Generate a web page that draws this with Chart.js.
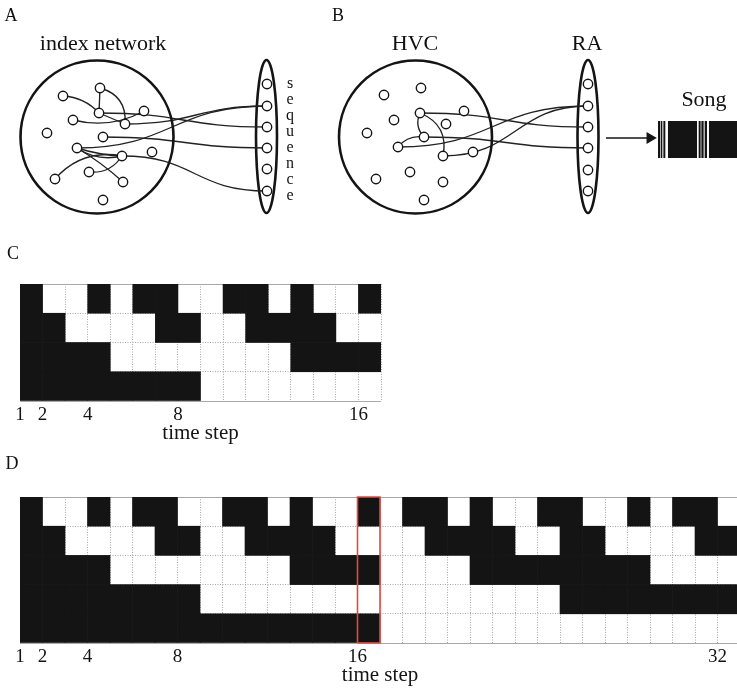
<!DOCTYPE html>
<html>
<head>
<meta charset="utf-8">
<script src="https://cdn.jsdelivr.net/npm/chart.js@4"></script>
<style>
  html, body { margin: 0; padding: 0; background: #fff; overflow: hidden; width: 737px; height: 688px; }
  canvas { position: absolute; }
  .lbl { position: absolute; font-family: 'Liberation Serif', serif; color: #111; transform: translate(-50%, -50%); white-space: nowrap; line-height: 1; }
  .seq { position: absolute; font-family: 'Liberation Serif', serif; color: #111; font-size: 16px; line-height: 16px; text-align: center; width: 14px; }
</style>
</head>
<body>

<canvas id="net" width="737" height="250" style="left:0px;top:0px"></canvas>
<canvas id="song" width="82" height="37" style="left:658px;top:121px"></canvas>
<canvas id="gridC" width="400" height="185" style="left:0px;top:270px"></canvas>
<canvas id="gridD" width="760" height="210" style="left:0px;top:480px"></canvas>

<div class="lbl" style="left:11px;top:15px;font-size:18px">A</div>
<div class="lbl" style="left:103px;top:43px;font-size:22px">index network</div>
<div class="seq" style="left:283px;top:75px">s<br>e<br>q<br>u<br>e<br>n<br>c<br>e</div>
<div class="lbl" style="left:338px;top:15px;font-size:18px">B</div>
<div class="lbl" style="left:415px;top:43px;font-size:22px">HVC</div>
<div class="lbl" style="left:587px;top:43px;font-size:22px">RA</div>
<div class="lbl" style="left:704px;top:99px;font-size:22px">Song</div>
<div class="lbl" style="left:13px;top:253px;font-size:18px">C</div>
<div class="lbl" style="left:12px;top:463px;font-size:18px">D</div>

<script>
const ink = "#141414";
const serif = "'Liberation Serif', serif";

// ======================================================
// PANEL A / B : network sketches (units = pixels of the figure)
// ======================================================
const bigCircles = [[97, 137], [415.5, 137]];
const ovals = [[266.5, 136.5, 10.5, 76.5], [588, 136.5, 10.5, 76.5]];

const indexNodes = [[100, 88], [63, 96], [99, 113], [144, 111], [73, 120], [125, 124], [47, 133], [103, 137],
                    [77, 148], [152, 152], [122, 156], [89, 172], [55, 179], [123, 182], [103, 200]];
const seqX = 267;
const seqY = [84, 106, 127, 148, 169, 191];

const hvcNodes = [[421, 88], [384, 95], [464, 111], [420, 113], [394, 120], [446, 124], [367, 133], [424, 137],
                  [398, 147], [473, 152], [443, 156], [410, 172], [376, 179], [443, 182], [424, 200]];
const raX = 588;
const raY = [84, 106, 127, 148, 170, 191];

// [from, to, bend]  ("s" = sigmoid link into the output column)
const indexEdges = [
    ["n0", "n2", 0], ["n0", "n5", 18], ["n1", "n2", 8], ["n2", "n5", 0], ["n4", "n3", -14],
    ["n2", "c2", "s"], ["n5", "c1", "s"], ["n7", "c3", "s"], ["n8", "c1", "s"], ["n10", "c5", "s"],
    ["n8", "n10", -3], ["n8", "n10", -10], ["n8", "n13", 3], ["n11", "n10", -11], ["n12", "n10", 20]
];
const hvcEdges = [
    ["n3", "c2", "s"], ["n3", "n7", -8], ["n3", "n10", 20], ["n8", "n7", 8],
    ["n7", "c3", "s"], ["n8", "c1", "s"], ["n10", "c1", "s"]
];

const arrowPts = [[606, 138], [650, 138]];

// ======================================================
// SONG (black segments along the strip)
// ======================================================
const songOn = [[0.3, 1.7], [3, 4], [5.7, 7], [10.3, 38.7], [41, 42.3], [43.7, 45.3], [47, 48.7], [51.3, 82]];

// ======================================================
// PANEL C / D : binary codes (1 = black cell), top row first
// ======================================================
const stepsC = 16;
const codeC = [
    [1,0,0,1,0,1,1,0,0,1,1,0,1,0,0,1],
    [1,1,0,0,0,0,1,1,0,0,1,1,1,1,0,0],
    [1,1,1,1,0,0,0,0,0,0,0,0,1,1,1,1],
    [1,1,1,1,1,1,1,1,0,0,0,0,0,0,0,0]
];
const labelsC = [1, 2, 4, 8, 16];

const stepsD = 32;
const codeD = [
    [1,0,0,1,0,1,1,0,0,1,1,0,1,0,0,1, 0,1,1,0,1,0,0,1,1,0,0,1,0,1,1,0],
    [1,1,0,0,0,0,1,1,0,0,1,1,1,1,0,0, 0,0,1,1,1,1,0,0,1,1,0,0,0,0,1,1],
    [1,1,1,1,0,0,0,0,0,0,0,0,1,1,1,1, 0,0,0,0,1,1,1,1,1,1,1,1,0,0,0,0],
    [1,1,1,1,1,1,1,1,0,0,0,0,0,0,0,0, 0,0,0,0,0,0,0,0,1,1,1,1,1,1,1,1],
    [1,1,1,1,1,1,1,1,1,1,1,1,1,1,1,1, 0,0,0,0,0,0,0,0,0,0,0,0,0,0,0,0]
];
const labelsD = [1, 2, 4, 8, 16, 32];
const highlightStep = 16;

Chart.defaults.font.family = serif;
Chart.defaults.color = ink;

// ------------------------------------------------------
// network chart
// ------------------------------------------------------
const panels = [
    { nodes: indexNodes, colX: seqX, colY: seqY, edges: indexEdges },
    { nodes: hvcNodes, colX: raX, colY: raY, edges: hvcEdges }
];

function pick(pn, key) {
    const i = +key.slice(1);
    return key[0] === "n" ? pn.nodes[i] : [pn.colX, pn.colY[i]];
}

const diagramPlugin = {
    id: "diagram",
    beforeDatasetsDraw(chart) {
        const { ctx, scales: { x, y } } = chart;
        const px = p => [x.getPixelForValue(p[0]), y.getPixelForValue(p[1])];
        ctx.save();

        ctx.lineWidth = 2.6;
        ctx.strokeStyle = ink;
        ovals.forEach(o => {
            const [cx, cy] = px(o);
            const rx = Math.abs(x.getPixelForValue(o[0] + o[2]) - cx);
            const ry = Math.abs(y.getPixelForValue(o[1] + o[3]) - cy);
            ctx.beginPath();
            ctx.ellipse(cx, cy, rx, ry, 0, 0, Math.PI * 2);
            ctx.stroke();
        });

        ctx.lineWidth = 1.35;
        ctx.strokeStyle = "#222";
        panels.forEach(pn => pn.edges.forEach(([a, b, bend]) => {
            const p0 = px(pick(pn, a)), p3 = px(pick(pn, b));
            ctx.beginPath();
            ctx.moveTo(p0[0], p0[1]);
            if (bend === "s") {
                const k = (p3[0] - p0[0]) * 0.5;
                ctx.bezierCurveTo(p0[0] + k, p0[1], p3[0] - k, p3[1], p3[0], p3[1]);
            } else {
                const dx = p3[0] - p0[0], dy = p3[1] - p0[1], len = Math.hypot(dx, dy);
                const mx = (p0[0] + p3[0]) / 2 + dy / len * bend;
                const my = (p0[1] + p3[1]) / 2 - dx / len * bend;
                ctx.quadraticCurveTo(mx, my, p3[0], p3[1]);
            }
            ctx.stroke();
        }));
        ctx.restore();
    }
};

const allNodes = [
    ...indexNodes, ...seqY.map(v => [seqX, v]),
    ...hvcNodes, ...raY.map(v => [raX, v])
];

new Chart(document.getElementById("net"), {
    type: "scatter",
    data: {
        datasets: [
            {
                data: allNodes.map(p => ({ x: p[0], y: p[1] })),
                pointRadius: 4.7,
                pointBackgroundColor: "#fff",
                pointBorderColor: ink,
                pointBorderWidth: 1.4,
                order: 0
            },
            {
                type: "line",
                data: arrowPts.map(p => ({ x: p[0], y: p[1] })),
                borderColor: ink,
                borderWidth: 1.4,
                pointRadius: [0, 5.5],
                pointStyle: "triangle",
                rotation: 90,
                pointBackgroundColor: ink,
                pointBorderColor: ink,
                order: 1
            },
            {
                data: bigCircles.map(p => ({ x: p[0], y: p[1] })),
                pointRadius: 76.5,
                pointBackgroundColor: "rgba(0,0,0,0)",
                pointBorderColor: ink,
                pointBorderWidth: 2.6,
                clip: false,
                order: 2
            }
        ]
    },
    options: {
        responsive: false,
        animation: false,
        events: [],
        layout: { padding: 0, autoPadding: false },
        plugins: { legend: { display: false }, tooltip: { enabled: false } },
        scales: {
            x: { type: "linear", min: 0, max: 737, display: false },
            y: { type: "linear", min: 0, max: 250, reverse: true, display: false }
        }
    },
    plugins: [diagramPlugin]
});

// ------------------------------------------------------
// song strip
// ------------------------------------------------------
new Chart(document.getElementById("song"), {
    type: "bar",
    data: {
        labels: ["song"],
        datasets: songOn.map(s => ({
            data: [s],
            backgroundColor: ink,
            barPercentage: 1,
            categoryPercentage: 1,
            grouped: false
        }))
    },
    options: {
        indexAxis: "y",
        responsive: false,
        animation: false,
        events: [],
        layout: { padding: 0, autoPadding: false },
        plugins: { legend: { display: false }, tooltip: { enabled: false } },
        scales: {
            x: {
                type: "linear", min: 0, max: 82,
                ticks: { display: false },
                grid: { display: false, drawTicks: false },
                border: { display: true, color: "#9a9a9a", width: 1 }
            },
            y: { display: false }
        }
    }
});

// ------------------------------------------------------
// binary code grids
// ------------------------------------------------------
function makeGrid(id, code, steps, shown, pad, axisH, titlePad, highlight) {
    const m = code.length;
    const datasets = code.map((row, r) => ({
        type: "bar",
        data: row.map((v, i) => v ? { x: i + 0.5, y: [m - r - 1, m - r] } : null).filter(Boolean),
        backgroundColor: ink,
        barPercentage: 1,
        categoryPercentage: 1,
        grouped: false,
        order: 1
    }));

    if (highlight) {
        datasets.push({
            type: "line",
            data: [
                { x: highlight - 1, y: 0 }, { x: highlight, y: 0 },
                { x: highlight, y: m }, { x: highlight - 1, y: m }, { x: highlight - 1, y: 0 }
            ],
            borderColor: "#e5473e",
            borderWidth: 1.6,
            pointRadius: 0,
            clip: false,
            order: 0
        });
    }

    new Chart(document.getElementById(id), {
        type: "bar",
        data: { datasets },
        options: {
            responsive: false,
            animation: false,
            events: [],
            layout: { padding: pad, autoPadding: false },
            plugins: { legend: { display: false }, tooltip: { enabled: false } },
            scales: {
                x: {
                    type: "linear", min: 0, max: steps, offset: false,
                    afterBuildTicks: s => { s.ticks = Array.from({ length: steps + 1 }, (_, i) => ({ value: i })); },
                    afterFit: s => { s.height = axisH; },
                    grid: { offset: false, color: "#a8a8a8", lineWidth: 1, drawTicks: false },
                    border: { display: false, dash: [1, 1.5] },
                    ticks: {
                        autoSkip: false, maxRotation: 0, padding: 3,
                        font: { size: 19 }, color: ink,
                        callback: v => shown.includes(v + 1) ? String(v + 1) : ""
                    },
                    title: {
                        display: true, text: "time step", color: ink,
                        font: { size: 21 }, padding: { top: 0, bottom: titlePad }
                    }
                },
                y: {
                    type: "linear", min: 0, max: m,
                    afterBuildTicks: s => { s.ticks = Array.from({ length: m + 1 }, (_, i) => ({ value: i })); },
                    afterFit: s => { s.width = 0; },
                    grid: { color: "#a8a8a8", lineWidth: 1, drawTicks: false },
                    border: {
                        display: false,
                        dash: c => (c.tick && (c.tick.value === 0 || c.tick.value === m)) ? [] : [1, 1.5]
                    },
                    ticks: { display: false }
                }
            }
        }
    });
}

makeGrid("gridC", codeC, stepsC, labelsC, { left: 20, right: 19, top: 14, bottom: 0 }, 54, 9, null);
makeGrid("gridD", codeD, stepsD, labelsD, { left: 20, right: 20, top: 17, bottom: 0 }, 47, 2, highlightStep);
</script>
</body>
</html>
